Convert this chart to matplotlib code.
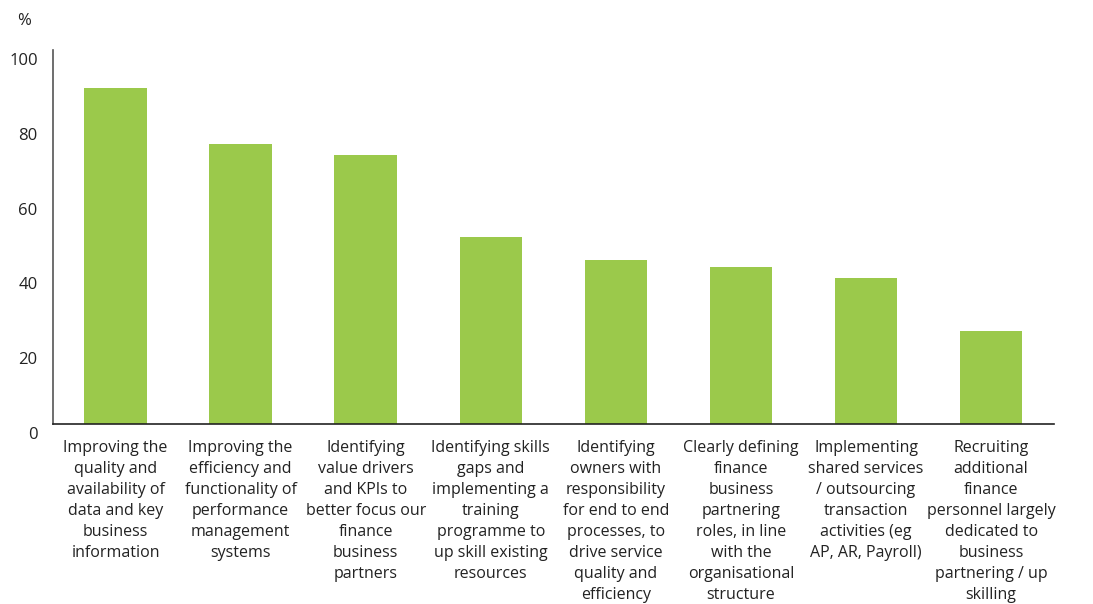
import numpy as np
import matplotlib.pyplot as plt
import matplotlib.transforms as mtransforms

plt.rcParams['font.family'] = ['Open Sans', 'DejaVu Sans']

categories = [
    "Improving the\nquality and\navailability of\ndata and key\nbusiness\ninformation",
    "Improving the\nefficiency and\nfunctionality of\nperformance\nmanagement\nsystems",
    "Identifying\nvalue drivers\nand KPIs to\nbetter focus our\nfinance\nbusiness\npartners",
    "Identifying skills\ngaps and\nimplementing a\ntraining\nprogramme to\nup skill existing\nresources",
    "Identifying\nowners with\nresponsibility\nfor end to end\nprocesses, to\ndrive service\nquality and\nefficiency",
    "Clearly defining\nfinance\nbusiness\npartnering\nroles, in line\nwith the\norganisational\nstructure",
    "Implementing\nshared services\n/ outsourcing\ntransaction\nactivities (eg\nAP, AR, Payroll)",
    "Recruiting\nadditional\nfinance\npersonnel largely\ndedicated to\nbusiness\npartnering / up\nskilling",
]
values = [90, 75, 72, 50, 44, 42, 39, 25]
yticks = [0, 20, 40, 60, 80, 100]

fig = plt.figure(figsize=(10.93, 6.04), dpi=100)
ax = fig.add_axes([0.0485, 0.298, 0.9155, 0.619])

x = np.arange(len(values))
ax.bar(x, values, width=0.5, color='#9bc94b')

ax.set_xlim(-0.5, len(values) - 0.5)
ax.set_ylim(0, 100)
ax.set_yticks(yticks)
ax.set_yticklabels([str(v) for v in yticks], fontsize=12, color='#222222')
ax.tick_params(axis='y', length=0, pad=11)
ax.set_xticks([])

# labels sit a little below their gridline in the original
offset = mtransforms.ScaledTranslation(0, -9 / 100, fig.dpi_scale_trans)
for lbl in ax.get_yticklabels():
    lbl.set_transform(lbl.get_transform() + offset)

for xi, cat in zip(x, categories):
    ax.text(xi, -4.2, cat, ha='center', va='top', fontsize=11.5,
            color='#222222', linespacing=1.42)

for s in ['top', 'right']:
    ax.spines[s].set_visible(False)
ax.spines['left'].set_color('#555555')
ax.spines['bottom'].set_color('#222222')
ax.spines['left'].set_linewidth(1.2)
ax.spines['bottom'].set_linewidth(1.2)

fig.text(0.016, 0.978, '%', fontsize=12, color='#222222', va='top')

fig.savefig('out.png', dpi=100)
